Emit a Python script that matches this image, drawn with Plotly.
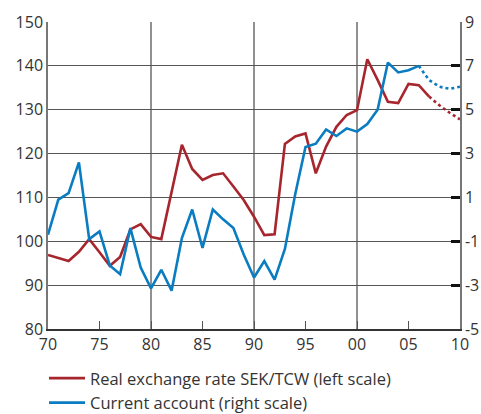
import plotly.graph_objects as go

# ---- data ----
years_fx = list(range(1970, 2008))
fx_solid = [96.9, 96.2, 95.5, 97.6, 100.5, 97.5, 94.4, 96.4, 102.7, 103.9,
            101.0, 100.5, 111.3, 122.0, 116.5, 114.0, 115.1, 115.5, 112.5, 109.4,
            105.6, 101.4, 101.6, 122.2, 123.9, 124.6, 115.5, 121.6, 126.1, 128.8,
            129.9, 141.5, 136.8, 131.8, 131.5, 135.9, 135.6, 133.0]
years_fx_fc = [2007, 2008, 2009, 2010]
fx_fc = [133.0, 131.0, 129.3, 127.8]

years_ca = list(range(1970, 2007))
ca_solid = [-0.7, 0.9, 1.2, 2.6, -0.9, -0.55, -2.1, -2.5, -0.4, -2.2,
            -3.15, -2.3, -3.25, -0.85, 0.45, -1.3, 0.45, 0.0, -0.4, -1.6,
            -2.65, -1.9, -2.75, -1.35, 1.15, 3.3, 3.45, 4.1, 3.8, 4.15,
            4.0, 4.35, 5.0, 7.15, 6.7, 6.8, 7.0]
years_ca_fc = [2006, 2007, 2008, 2009, 2010]
ca_fc = [7.0, 6.35, 6.05, 5.95, 6.05]

x_tickvals = [1970, 1975, 1980, 1985, 1990, 1995, 2000, 2005, 2010]
x_ticktext = ["70", "75", "80", "85", "90", "95", "00", "05", "10"]
x_grid_years = [1980, 1990, 2000]
left_ticks = [80, 90, 100, 110, 120, 130, 140, 150]
right_ticks = [-5, -3, -1, 1, 3, 5, 7, 9]
right_ticktext = ["-5", "-3", "-1", "1", "3", "5", "7", "9"]

name_fx = "Real exchange rate SEK/TCW (left scale)"
name_ca = "Current account (right scale)"

RED = "#A7262E"
BLUE = "#0A7CC1"
FONT = "Open Sans"
TXT = "#333333"

fig = go.Figure()
fig.add_trace(go.Scatter(x=years_fx, y=fx_solid, mode="lines", name=name_fx,
                         line=dict(color=RED, width=2.6)))
fig.add_trace(go.Scatter(x=years_fx_fc, y=fx_fc, mode="lines", showlegend=False,
                         line=dict(color=RED, width=2.6, dash="dot")))
fig.add_trace(go.Scatter(x=years_ca, y=ca_solid, mode="lines", name=name_ca,
                         yaxis="y2", line=dict(color=BLUE, width=2.6)))
fig.add_trace(go.Scatter(x=years_ca_fc, y=ca_fc, mode="lines", showlegend=False,
                         yaxis="y2", line=dict(color=BLUE, width=2.6, dash="dot")))

for yr in x_grid_years:
    fig.add_shape(type="line", xref="x", yref="paper", x0=yr, x1=yr, y0=0, y1=1,
                  line=dict(color="#222222", width=1), layer="below")

fig.update_layout(
    width=481, height=414,
    margin=dict(l=48, r=21, t=22, b=85, autoexpand=False),
    paper_bgcolor="white", plot_bgcolor="white",
    font=dict(family=FONT, size=16, color=TXT),
    showlegend=True,
    legend=dict(orientation="v", x=-0.0097, y=-0.104, xanchor="left", yanchor="top",
                font=dict(family=FONT, size=16.5, color=TXT), itemwidth=36,
                bgcolor="rgba(0,0,0,0)", tracegroupgap=0),
    xaxis=dict(range=[1970, 2010], tickvals=x_tickvals, ticktext=x_ticktext,
               ticks="inside", ticklen=8, tickcolor="#555555", tickwidth=1,
               showgrid=False, zeroline=False, showline=True, linecolor="#333333",
               linewidth=1.5, tickfont=dict(size=16, color=TXT), automargin=False),
    yaxis=dict(range=[80, 150], tickvals=left_ticks, showgrid=True,
               gridcolor="#555555", gridwidth=1, zeroline=False,
               showline=True, linecolor="#777777", linewidth=1.5, ticks="",
               tickfont=dict(size=16, color=TXT), automargin=False),
    yaxis2=dict(range=[-5, 9], tickvals=right_ticks, ticktext=right_ticktext,
                overlaying="y", side="right", showgrid=False, zeroline=False,
                showline=True, linecolor="#777777", linewidth=1.5,
                ticks="inside", ticklen=9, tickwidth=2.5, tickcolor="#111111",
                tickfont=dict(size=16, color=TXT), automargin=False),
)

fig.write_html(
    "out.html",
    config={"displayModeBar": False},
    post_script="document.body.style.margin='0';document.body.style.overflow='hidden';",
)
